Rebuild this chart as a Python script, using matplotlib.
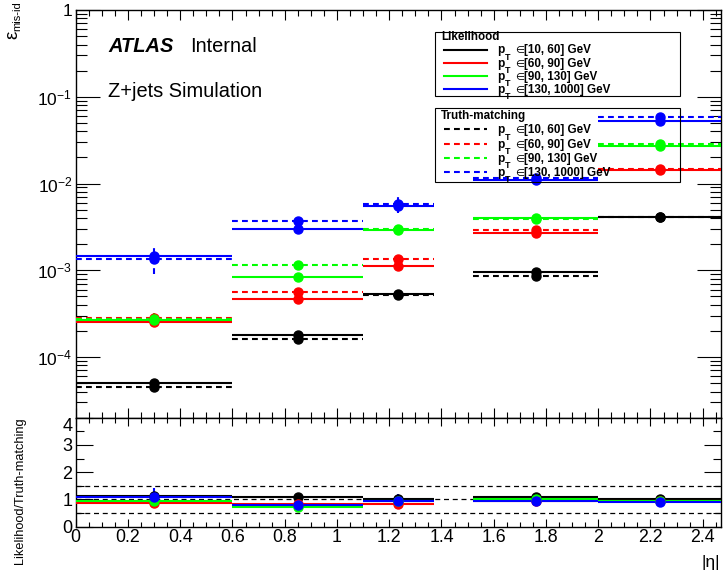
import matplotlib
matplotlib.use('Agg')
import matplotlib.pyplot as plt
import numpy as np
from matplotlib.ticker import FixedLocator, MultipleLocator, LogLocator, NullFormatter, FixedFormatter
from matplotlib.lines import Line2D
from matplotlib.patches import Rectangle

plt.rcParams['font.family'] = ['Liberation Sans', 'DejaVu Sans']
plt.rcParams['mathtext.fontset'] = 'custom'
plt.rcParams['mathtext.rm'] = 'Liberation Sans'
plt.rcParams['mathtext.it'] = 'Liberation Sans:italic'
plt.rcParams['mathtext.bf'] = 'Liberation Sans:bold'

# ---------------- data ----------------
bin_lo = [0.0, 0.6, 1.1, 1.52, 2.0]
bin_hi = [0.6, 1.1, 1.37, 2.0, 2.47]
pt_labels = ['[10, 60] GeV', '[60, 90] GeV', '[90, 130] GeV', '[130, 1000] GeV']
colors = ['#000000', '#ff0000', '#00ff00', '#0000ff']

# Likelihood (solid)
lh_black = [5.08e-5, 1.78e-4, 5.26e-4, 9.5e-4, 4.13e-3]
lh_red = [2.52e-4, 4.72e-4, 1.12e-3, 2.70e-3, 1.43e-2]
lh_green = [2.66e-4, 8.26e-4, 2.90e-3, 4.0e-3, 2.72e-2]
lh_blue = [1.455e-3, 2.98e-3, 5.49e-3, 1.094e-2, 5.29e-2]
# Truth-matching (dashed)
tm_black = [4.49e-5, 1.62e-4, 5.2e-4, 8.6e-4, 4.1e-3]
tm_red = [2.85e-4, 5.69e-4, 1.35e-3, 2.90e-3, 1.49e-2]
tm_green = [2.78e-4, 1.15e-3, 3.03e-3, 3.9e-3, 2.85e-2]
tm_blue = [1.354e-3, 3.68e-3, 5.74e-3, 1.164e-2, 5.88e-2]

# uncertainties
lh_black_err = [2e-6, 5e-6, 1.2e-5, 3e-5, 1e-4]
tm_black_err = [3e-6, 6e-6, 1.5e-5, 4e-5, 1.2e-4]
lh_red_err = [1e-5, 2e-5, 5e-5, 1e-4, 4e-4]
tm_red_err = [2e-5, 4e-5, 1.5e-4, 1.5e-4, 6e-4]
lh_green_err = [1.5e-5, 3e-5, 1e-4, 1.5e-4, 8e-4]
tm_green_err = [4e-5, 6e-5, 2e-4, 2e-4, 1e-3]
lh_blue_err = [8e-5, 2e-4, 6e-4, 4e-4, 1.5e-3]
tm_blue_err = [4.5e-4, 4e-4, 1.2e-3, 6e-4, 2e-3]

lh_all = [lh_black, lh_red, lh_green, lh_blue]
tm_all = [tm_black, tm_red, tm_green, tm_blue]
lh_err_all = [lh_black_err, lh_red_err, lh_green_err, lh_blue_err]
tm_err_all = [tm_black_err, tm_red_err, tm_green_err, tm_blue_err]

W, H = 724, 575
def fx(p):
    return p / W
def fy(p):
    return 1 - p / H

fig = plt.figure(figsize=(W / 100, H / 100), dpi=100)
L, R, T, B1, B2 = 75.7, 721.0, 10.0, 417.7, 526.7
ax = fig.add_axes([fx(L), fy(B1), fx(R) - fx(L), fy(T) - fy(B1)])
axr = fig.add_axes([fx(L), fy(B2), fx(R) - fx(L), fy(B1) - fy(B2)])

lo = np.array(bin_lo)
hi = np.array(bin_hi)
cen = 0.5 * (lo + hi)
dash = (0, (2.8, 2.0))
LW = 1.5
MS = 6.5

for i in range(4):
    c = colors[i]
    lv = np.array(lh_all[i]); tv = np.array(tm_all[i])
    le = np.array(lh_err_all[i]); te = np.array(tm_err_all[i])
    ax.hlines(tv, lo, hi, colors=c, linestyles=[dash], lw=LW, zorder=3)
    eb = ax.errorbar(cen, tv, yerr=te, fmt='o', color=c, ms=MS, elinewidth=LW, capsize=0, zorder=4)
    eb[2][0].set_linestyle(dash)
    ax.hlines(lv, lo, hi, colors=c, linestyles='solid', lw=LW, zorder=3)
    ax.errorbar(cen, lv, yerr=le, fmt='o', color=c, ms=MS, elinewidth=LW, capsize=0, zorder=4)

    r = lv / tv
    re = r * np.sqrt((le / lv) ** 2 + (te / tv) ** 2)
    axr.hlines(r, lo, hi, colors=c, lw=LW, zorder=3)
    axr.errorbar(cen, r, yerr=re, fmt='o', color=c, ms=MS, elinewidth=LW, capsize=0, zorder=4)

for yref in [0.5, 1.0, 1.5]:
    axr.axhline(yref, color='black', lw=0.9, ls=(0, (4, 3)), zorder=1)

# ---------------- axes styling ----------------
ax.set_yscale('log')
ax.set_ylim(2e-5, 1)
ax.set_xlim(0, 2.47)
axr.set_xlim(0, 2.47)
axr.set_ylim(0, 4.0)

for a in (ax, axr):
    for s in a.spines.values():
        s.set_linewidth(1.0)
    a.xaxis.set_major_locator(MultipleLocator(0.2))
    a.xaxis.set_minor_locator(MultipleLocator(0.05))

ax.yaxis.set_major_locator(FixedLocator([1e-4, 1e-3, 1e-2, 1e-1, 1]))
ax.yaxis.set_major_formatter(FixedFormatter([r'$10^{-4}$', r'$10^{-3}$', r'$10^{-2}$', r'$10^{-1}$', '1']))
ax.yaxis.set_minor_locator(LogLocator(base=10, subs=np.arange(2, 10), numticks=20))
ax.yaxis.set_minor_formatter(NullFormatter())

ax.tick_params(axis='both', which='both', direction='in', top=True, right=True, width=0.8)
ax.tick_params(axis='x', which='major', length=7)
ax.tick_params(axis='x', which='minor', length=4)
ax.tick_params(axis='y', which='major', length=17, labelsize=12.5, pad=2.5)
ax.tick_params(axis='y', which='minor', length=8)
ax.tick_params(axis='x', labelbottom=False)

axr.yaxis.set_major_locator(MultipleLocator(1))
axr.yaxis.set_minor_locator(MultipleLocator(0.5))
axr.tick_params(axis='both', which='both', direction='in', top=True, right=True, width=0.8)
axr.tick_params(axis='x', which='major', length=6, labelsize=12.8, pad=1.5)
axr.tick_params(axis='x', which='minor', length=3.5)
axr.tick_params(axis='y', which='major', length=12, labelsize=13, pad=2.5)
axr.tick_params(axis='y', which='minor', length=6)
axr.xaxis.set_major_formatter(matplotlib.ticker.FuncFormatter(lambda v, p: ('%g' % round(v, 2))))
axr.yaxis.set_major_formatter(matplotlib.ticker.FuncFormatter(lambda v, p: '%d' % round(v)))
fig.canvas.draw()
for t in axr.yaxis.get_major_ticks():
    if abs(t.get_loc() - 4) < 1e-6:
        t.label1.set_va('top')

# ---------------- texts ----------------
fig.text(fx(108), fy(52.3), 'ATLAS', fontsize=14.4, fontweight='bold', fontstyle='italic', va='baseline', ha='left')
fig.text(fx(190), fy(52.3), 'Internal', fontsize=14.4, va='baseline', ha='left')
fig.text(fx(108), fy(96.5), 'Z+jets Simulation', fontsize=14.4, va='baseline', ha='left')

fig.text(fx(12.5), fy(34.5), 'ε', fontsize=13.5, rotation=90, ha='center', va='center')
fig.text(fx(17.0), fy(16.5), 'mis-id', fontsize=8.0, rotation=90, ha='center', va='center')
fig.text(fx(20), fy(491), 'Likelihood/Truth-matching', fontsize=9.2, rotation=90, ha='center', va='center')
fig.text(fx(720), fy(567), '|η|', fontsize=12.5, ha='right', va='baseline')

# ---------------- legends ----------------
def legend_box(y0, y1, title, title_base, bases, line_ys, ls):
    fig.add_artist(Rectangle((fx(435), fy(y1)), fx(680) - fx(435), fy(y0) - fy(y1),
                             transform=fig.transFigure, fill=False, ec='black', lw=0.8))
    fig.text(fx(441), fy(title_base), title, fontsize=8.4, fontweight='bold', va='baseline', ha='left')
    for i in range(4):
        fig.add_artist(Line2D([fx(444), fx(487)], [fy(line_ys[i])] * 2, color=colors[i], lw=LW, ls=ls,
                              transform=fig.transFigure))
        fig.text(fx(497), fy(bases[i]), 'p', fontsize=8.6, fontweight='bold', va='baseline', ha='left')
        fig.text(fx(505), fy(bases[i] + 6.5), 'T', fontsize=6.5, fontweight='bold', va='baseline', ha='left')
        fig.text(fx(515.5), fy(bases[i]), '∈', fontsize=7.5, va='baseline', ha='left')
        fig.text(fx(524.5), fy(bases[i]), pt_labels[i], fontsize=8.4, fontweight='bold', va='baseline', ha='left')

legend_box(31.7, 96.0, 'Likelihood', 40.0, [53.3, 66.7, 79.6, 92.7], [49.8, 63.2, 76.1, 89.2], '-')
legend_box(108.3, 181.7, 'Truth-matching', 119.3, [133.3, 147.8, 161.5, 175.5], [129.3, 143.8, 157.5, 171.5], dash)

fig.savefig('out.png', dpi=100)
